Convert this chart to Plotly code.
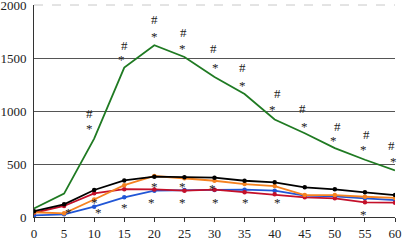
import plotly.graph_objects as go

time = [0, 5, 10, 15, 20, 25, 30, 35, 40, 45, 50, 55, 60]
green = [80, 220, 740, 1410, 1620, 1510, 1320, 1160, 920, 790, 650, 540, 440]
black = [55, 120, 255, 345, 380, 374, 371, 342, 327, 280, 261, 233, 207]
orange = [45, 35, 165, 300, 387, 365, 342, 311, 292, 207, 207, 191, 180]
red = [40, 104, 223, 262, 260, 248, 258, 233, 214, 186, 176, 138, 135]
blue = [15, 25, 97, 186, 248, 255, 255, 258, 248, 201, 195, 176, 160]

ann_x = [9.3, 9.3, 15.1, 14.5, 20.1, 20.1, 24.8, 24.6, 29.9, 30.1, 34.7, 34.6,
         40.4, 39.7, 44.7, 44.9, 50.5, 49.7, 55.3, 54.7, 59.5, 59.8,
         5.8, 10.1, 10.8, 15.1, 20.1, 19.6, 24.6, 24.6, 29.6, 30.2, 35.2, 40.4, 54.7]
ann_y = [981, 858, 1622, 1509, 1867, 1726, 1745, 1613, 1594, 1433, 1415, 1264,
         1169, 1037, 1028, 877, 858, 745, 783, 651, 679, 547,
         57, 151, 57, 104, 311, 151, 311, 151, 292, 151, 151, 151, 47]
ann_text = ["#", "*", "#", "*", "#", "*", "#", "*", "#", "*", "#", "*",
            "#", "*", "#", "*", "#", "*", "#", "*", "#", "*",
            "*", "*", "*", "*", "*", "*", "*", "*", "*", "*", "*", "*", "*"]

SERIF = "Liberation Serif, Times New Roman, serif"

fig = go.Figure()
fig.add_trace(go.Scatter(x=time, y=green, mode="lines",
                         line=dict(color="#1f7a22", width=1.8)))
for vals, col in [(blue, "#2156d6"), (red, "#c4102a"), (orange, "#f58220"), (black, "#000000")]:
    fig.add_trace(go.Scatter(x=time, y=vals, mode="lines+markers",
                             line=dict(color=col, width=1.8),
                             marker=dict(color=col, size=4.5, symbol="circle")))

for xv, yv, t in zip(ann_x, ann_y, ann_text):
    fig.add_annotation(x=xv, y=yv, text=t, showarrow=False, xref="x", yref="y",
                       font=dict(family=SERIF, size=13, color="#222222"),
                       yshift=-2 if t == "*" else 0)

fig.add_shape(type="line", xref="paper", yref="paper", x0=0, x1=1, y0=1, y1=1,
              line=dict(color="#c8c8c8", width=1, dash="dash"))

fig.update_layout(
    width=402, height=240, showlegend=False,
    margin=dict(l=34, r=7, t=5, b=23, autoexpand=False),
    paper_bgcolor="white", plot_bgcolor="white",
    font=dict(family=SERIF, size=13, color="#222222"),
    xaxis=dict(range=[0, 60], tickvals=time, showgrid=False, showline=True,
               linecolor="#333333", linewidth=1, ticks="outside", ticklen=4,
               tickcolor="#333333", zeroline=False, ticklabelstandoff=0,
               automargin=False, ticklabeloverflow="allow",
               tickfont=dict(family=SERIF, size=13, color="#222222")),
    yaxis=dict(range=[0, 2000], dtick=500, showgrid=True, gridcolor="#555555",
               gridwidth=1, showline=True, linecolor="#333333", linewidth=1,
               ticks="", zeroline=False, ticklabelstandoff=4,
               automargin=False, ticklabeloverflow="allow",
               tickfont=dict(family=SERIF, size=13, color="#222222")),
)
fig.write_html("out.html", config={"displayModeBar": False},
               post_script="document.body.style.margin='0';document.body.style.padding='0';")
